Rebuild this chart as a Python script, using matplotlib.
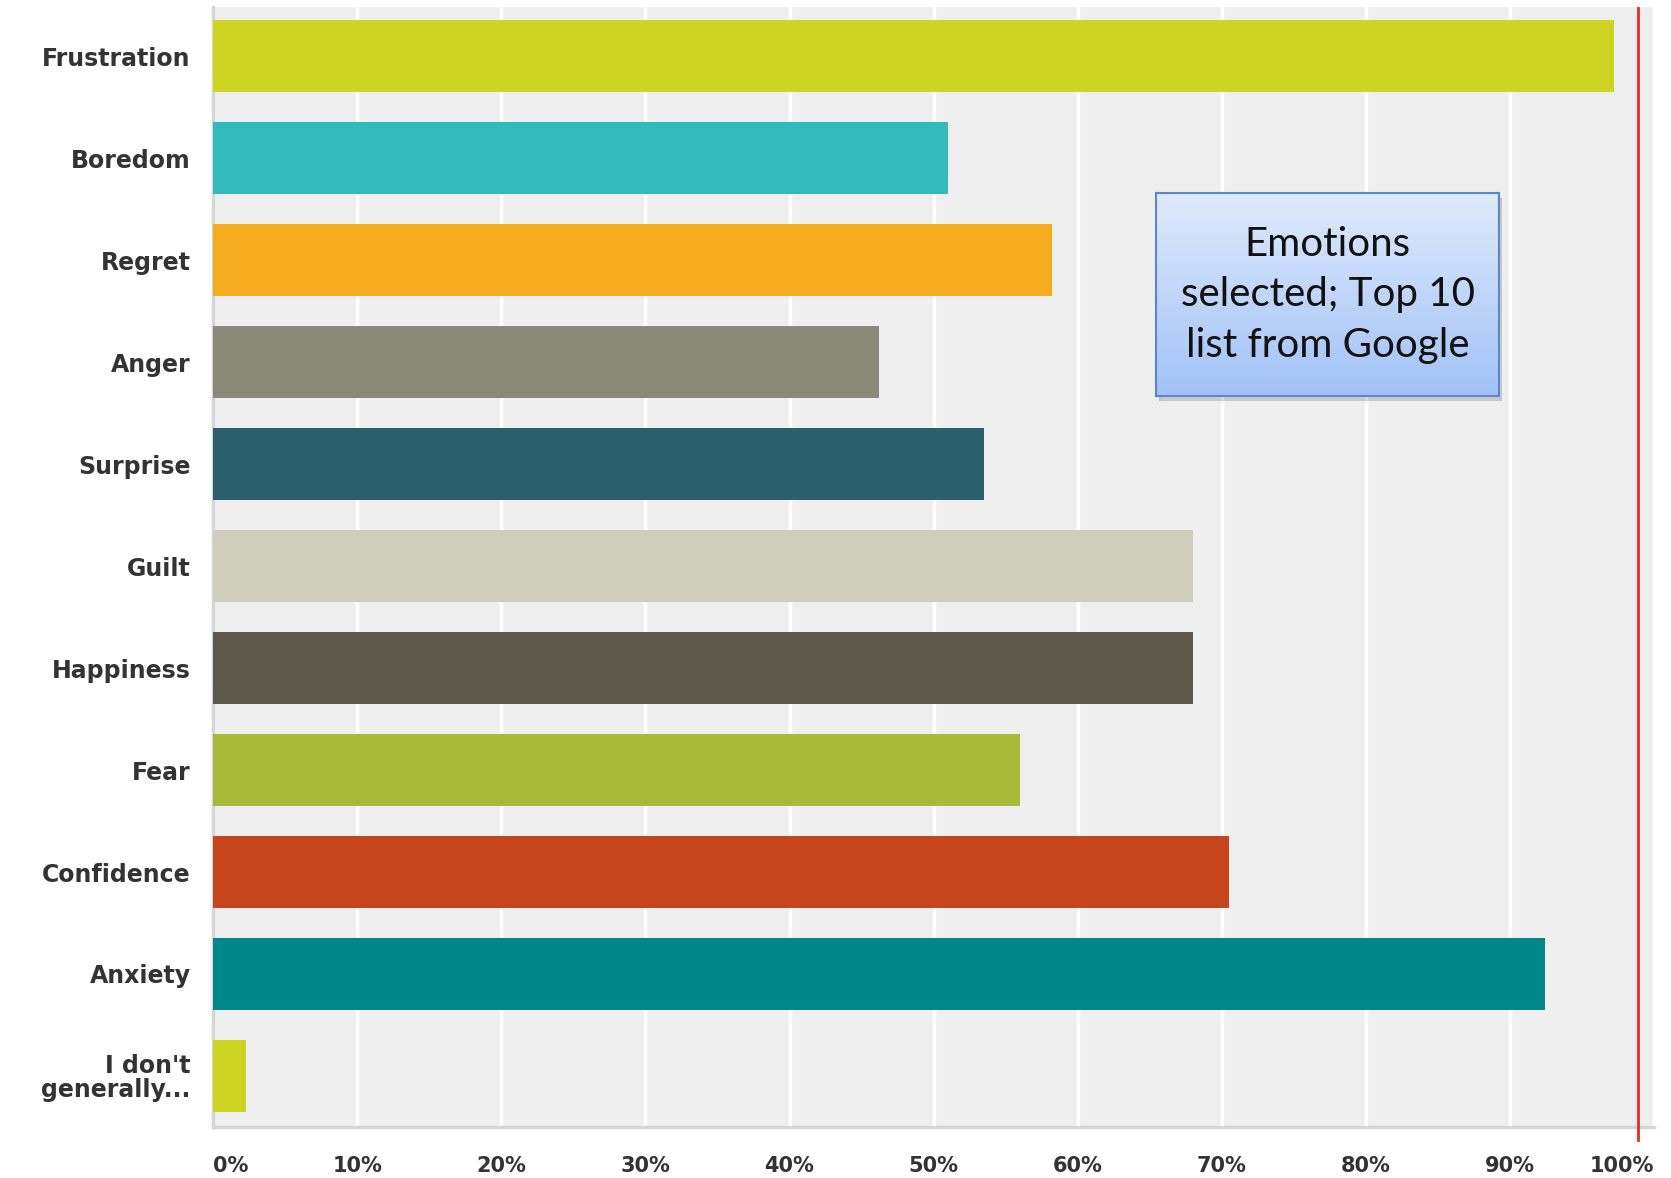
import matplotlib.pyplot as plt
import numpy as np
from matplotlib.patches import Rectangle

# Survey answers: share of respondents picking each emotion (%)
emotions = ["Frustration", "Boredom", "Regret", "Anger", "Surprise", "Guilt",
            "Happiness", "Fear", "Confidence", "Anxiety", "I don't\ngenerally..."]
shares = [97.2, 51.0, 58.2, 46.2, 53.5, 68.0, 68.0, 56.0, 70.5, 92.4, 2.3]
colours = ["#cdd424", "#32bbbd", "#f5ad1f", "#8a8a78", "#2c5f6c", "#cfcdbc",
           "#5b5849", "#a7bb38", "#c6451c", "#00878a", "#cdd424"]
x_ticks = list(range(0, 101, 10))
x_labels = [f"{t}%" for t in x_ticks]
marker_x = 98.9  # red reference line

fig = plt.figure(figsize=(16.71, 11.78), dpi=100)
ax = fig.add_axes([0.1275, 0.0433, 0.8625, 0.9507])
ax.set_facecolor("#efefef")
ax.set_zorder(1)

ypos = np.arange(len(emotions))
ax.barh(ypos, shares, height=0.71, color=colours, zorder=3)

ax.set_xlim(0, 100)
ax.set_ylim(10.5, -0.48)
ax.set_xticks(x_ticks)
ax.set_xticklabels(x_labels)
ax.set_yticks(ypos)
ax.set_yticklabels(emotions)
ax.grid(axis="x", color="white", linewidth=2.5, zorder=1)
ax.tick_params(length=0)
ax.tick_params(axis="y", pad=16)
ax.tick_params(axis="x", pad=21)

for lab in ax.get_yticklabels() + ax.get_xticklabels():
    lab.set_fontfamily("DejaVu Sans")
    lab.set_fontweight("bold")
    lab.set_color("#333333")
for lab in ax.get_yticklabels():
    lab.set_fontsize(17)
    lab.set_linespacing(0.95)
for lab in ax.get_xticklabels():
    lab.set_fontsize(15)
xl = ax.get_xticklabels()
xl[0].set_horizontalalignment("left")
xl[-1].set_horizontalalignment("right")

for side in ["top", "right"]:
    ax.spines[side].set_visible(False)
for side in ["left", "bottom"]:
    ax.spines[side].set_color("#d6d6d6")
    ax.spines[side].set_linewidth(2.5)

ax.axvline(marker_x, ymin=-0.012, ymax=0.999, color="#e8282b",
           linewidth=2, clip_on=False, zorder=5)

# Note box with blue gradient fill and a soft shadow
bx, by, bw, bh = 0.6918, 0.6638, 0.2053, 0.1723
shadow = fig.add_axes([bx + 0.002, by - 0.004, bw, bh])
shadow.set_zorder(2)
shadow.set_axis_off()
shadow.add_patch(Rectangle((0, 0), 1, 1, transform=shadow.transAxes,
                           color="#8a8a8a", alpha=0.35))

note = fig.add_axes([bx, by, bw, bh])
note.set_zorder(3)
grad = np.linspace(0, 1, 256).reshape(-1, 1)
top_c = np.array([0xdf, 0xea, 0xfc]) / 255
bot_c = np.array([0xa2, 0xc2, 0xf7]) / 255
img = top_c[None, None, :] * (1 - grad[:, :, None]) + bot_c[None, None, :] * grad[:, :, None]
note.imshow(img, aspect="auto", extent=[0, 1, 0, 1])
note.set_xticks([])
note.set_yticks([])
for sp in note.spines.values():
    sp.set_color("#5b87c8")
    sp.set_linewidth(1.5)
note.text(0.5, 0.5, "Emotions\nselected; Top 10\nlist from Google",
          ha="center", va="center", fontsize=29, family="Lato",
          color="#111111", linespacing=1.45)

plt.savefig("out.png", dpi=100)
